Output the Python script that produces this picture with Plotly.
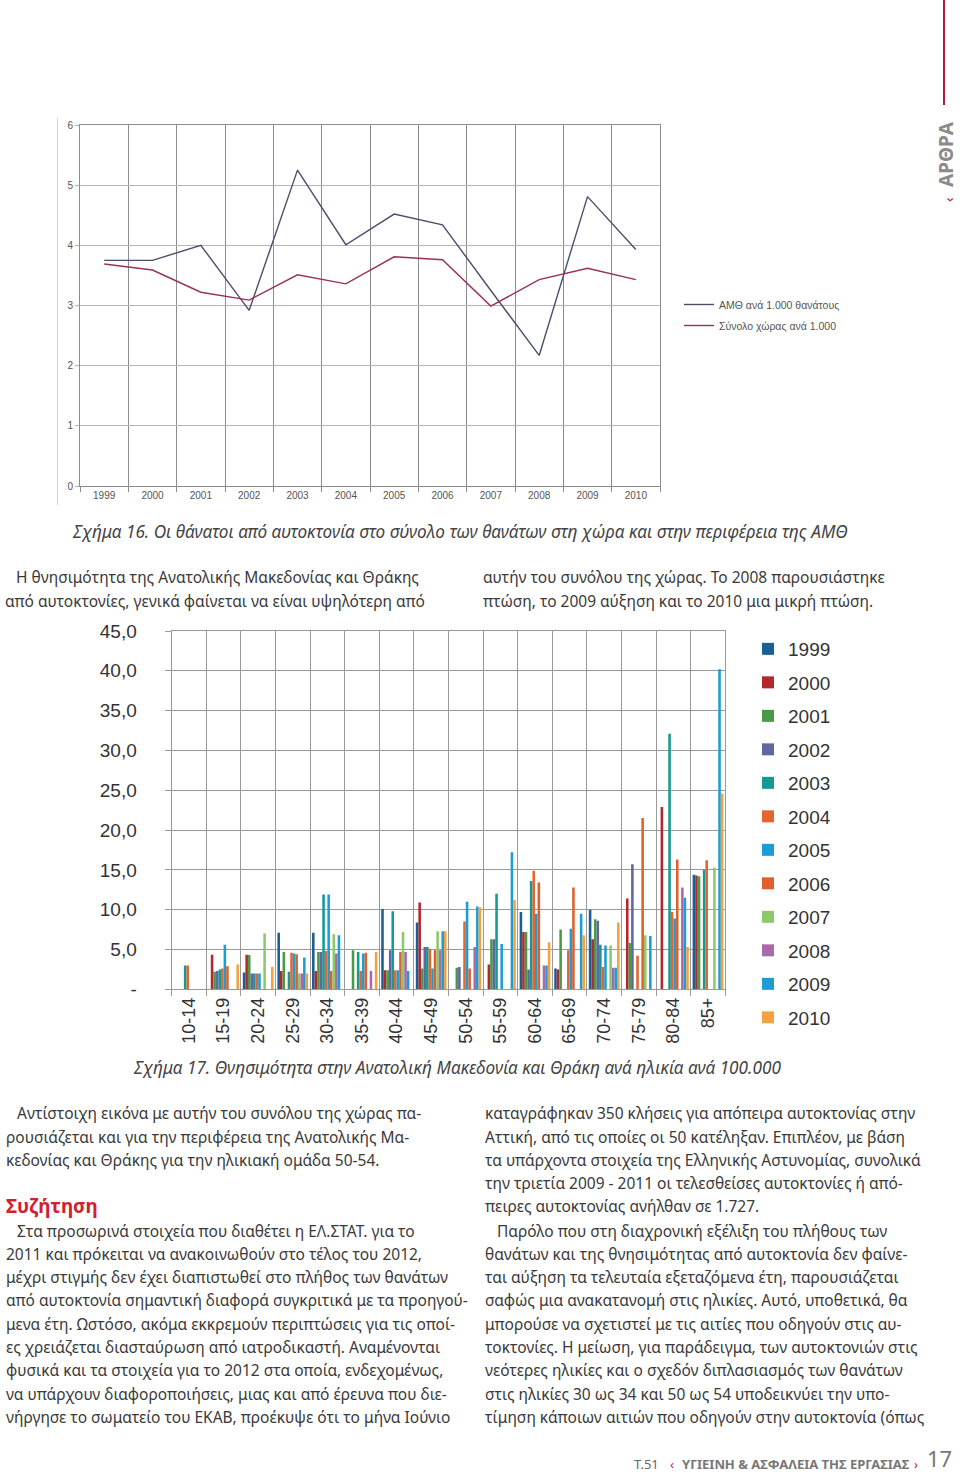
import plotly.graph_objects as go

W, H = 960, 1475

# ---------------- Data: Figure 16 (line chart) ----------------
years_line = ["1999", "2000", "2001", "2002", "2003", "2004",
              "2005", "2006", "2007", "2008", "2009", "2010"]
amth_per_1000 = [3.75, 3.75, 4.00, 2.92, 5.25, 4.01, 4.52, 4.34, 3.25, 2.17, 4.81, 3.93]
country_per_1000 = [3.69, 3.59, 3.22, 3.09, 3.51, 3.36, 3.81, 3.76, 2.99, 3.43, 3.62, 3.43]
line_names = ["ΑΜΘ ανά 1.000 θανάτους", "Σύνολο χώρας ανά 1.000"]

# ---------------- Data: Figure 17 (grouped bars) ----------------
age_groups = ["10-14", "15-19", "20-24", "25-29", "30-34", "35-39", "40-44", "45-49",
              "50-54", "55-59", "60-64", "65-69", "70-74", "75-79", "80-84", "85+"]
bar_years = ["1999", "2000", "2001", "2002", "2003", "2004",
             "2005", "2006", "2007", "2008", "2009", "2010"]
r1999 = [0, 0, 2.1, 7.1, 7.1, 0, 10.1, 8.4, 0, 0, 9.7, 2.6, 10.0, 0, 0, 14.4]
r2000 = [0, 4.35, 4.35, 2.3, 2.3, 0, 2.4, 10.9, 0, 3.1, 7.2, 2.5, 6.3, 11.4, 22.9, 14.3]
r2001 = [0, 2.2, 4.3, 4.7, 4.7, 4.9, 2.4, 2.6, 2.7, 6.3, 7.2, 7.5, 8.8, 5.8, 0, 14.2]
r2002 = [0, 2.3, 2.0, 0, 4.7, 0, 4.9, 5.3, 2.8, 6.3, 2.5, 0, 8.6, 15.7, 0, 0]
r2003 = [3.0, 2.5, 2.0, 2.2, 11.9, 4.7, 9.8, 5.3, 0, 12.0, 13.6, 0, 5.6, 0, 32.1, 15.0]
r2004 = [3.0, 2.6, 2.0, 4.6, 4.8, 2.3, 2.4, 5.1, 8.5, 0, 14.9, 4.9, 2.8, 4.2, 9.7, 16.2]
r2005 = [0, 5.6, 2.0, 4.5, 11.9, 4.5, 2.4, 2.6, 11.0, 5.7, 9.5, 7.6, 5.5, 0, 8.9, 0]
r2006 = [0, 2.9, 0, 4.4, 2.3, 4.6, 4.7, 4.9, 2.6, 0, 13.4, 12.8, 0, 21.5, 16.3, 0]
r2007 = [0, 0, 7.0, 2.0, 6.9, 0, 7.2, 7.3, 0, 0, 0, 0, 5.5, 6.8, 0, 15.3]
r2008 = [0, 0, 0, 2.0, 4.5, 2.3, 4.7, 4.9, 5.3, 0, 3.0, 0, 2.7, 0, 12.8, 0]
r2009 = [0, 0, 0, 4.0, 6.8, 0, 2.3, 7.3, 10.4, 17.2, 3.0, 9.5, 2.7, 6.7, 11.5, 40.2]
r2010 = [0, 3.1, 2.8, 2.0, 0, 4.7, 0, 7.3, 10.3, 11.2, 5.9, 6.8, 8.4, 0, 5.3, 24.6]
bar_series = [r1999, r2000, r2001, r2002, r2003, r2004,
              r2005, r2006, r2007, r2008, r2009, r2010]
bar_colors = ["#1a5e96", "#b3282d", "#4a9a45", "#6065a3", "#159a91", "#e3652f",
              "#1b9dd8", "#e0602c", "#8dc86a", "#a86aa9", "#1e9cd6", "#f3a23f"]
bar_ytickvals = [0, 5, 10, 15, 20, 25, 30, 35, 40, 45]
bar_yticktext = ["-", "5,0", "10,0", "15,0", "20,0", "25,0", "30,0", "35,0", "40,0", "45,0"]

# ---------------- Page texts ----------------
caption16 = "Σχήμα 16. Οι θάνατοι από αυτοκτονία στο σύνολο των θανάτων στη χώρα και στην περιφέρεια της ΑΜΘ"
caption17 = "Σχήμα 17. Θνησιμότητα στην Ανατολική Μακεδονία και Θράκη ανά ηλικία ανά 100.000"
mid_left = ["Η θνησιμότητα της Ανατολικής Μακεδονίας και Θράκης",
            "από αυτοκτονίες, γενικά φαίνεται να είναι υψηλότερη από"]
mid_right = ["αυτήν του συνόλου της χώρας. Το 2008 παρουσιάστηκε",
             "πτώση, το 2009 αύξηση και το 2010 μια μικρή πτώση."]
left_col_a = ["Αντίστοιχη εικόνα με αυτήν του συνόλου της χώρας πα-",
              "ρουσιάζεται και για την περιφέρεια της Ανατολικής Μα-",
              "κεδονίας και Θράκης για την ηλικιακή ομάδα 50-54."]
heading = "Συζήτηση"
left_col_b = ["Στα προσωρινά στοιχεία που διαθέτει η ΕΛ.ΣΤΑΤ. για το",
              "2011 και πρόκειται να ανακοινωθούν στο τέλος του 2012,",
              "μέχρι στιγμής δεν έχει διαπιστωθεί στο πλήθος των θανάτων",
              "από αυτοκτονία σημαντική διαφορά συγκριτικά με τα προηγού-",
              "μενα έτη. Ωστόσο, ακόμα εκκρεμούν περιπτώσεις για τις οποί-",
              "ες χρειάζεται διασταύρωση από ιατροδικαστή. Αναμένονται",
              "φυσικά και τα στοιχεία για το 2012 στα οποία, ενδεχομένως,",
              "να υπάρχουν διαφοροποιήσεις, μιας και από έρευνα που διε-",
              "νήργησε το σωματείο του ΕΚΑΒ, προέκυψε ότι το μήνα Ιούνιο"]
right_col = ["καταγράφηκαν 350 κλήσεις για απόπειρα αυτοκτονίας στην",
             "Αττική, από τις οποίες οι 50 κατέληξαν. Επιπλέον, με βάση",
             "τα υπάρχοντα στοιχεία της Ελληνικής Αστυνομίας, συνολικά",
             "την τριετία 2009 - 2011 οι τελεσθείσες αυτοκτονίες ή από-",
             "πειρες αυτοκτονίας ανήλθαν σε 1.727.",
             "Παρόλο που στη διαχρονική εξέλιξη του πλήθους των",
             "θανάτων και της θνησιμότητας από αυτοκτονία δεν φαίνε-",
             "ται αύξηση τα τελευταία εξεταζόμενα έτη, παρουσιάζεται",
             "σαφώς μια ανακατανομή στις ηλικίες. Αυτό, υποθετικά, θα",
             "μπορούσε να σχετιστεί με τις αιτίες που οδηγούν στις αυ-",
             "τοκτονίες. Η μείωση, για παράδειγμα, των αυτοκτονιών στις",
             "νεότερες ηλικίες και ο σχεδόν διπλασιασμός των θανάτων",
             "στις ηλικίες 30 ως 34 και 50 ως 54 υποδεικνύει την υπο-",
             "τίμηση κάποιων αιτιών που οδηγούν στην αυτοκτονία (όπως"]
section_tab = "ΑΡΘΡΑ"
footer_issue = "Τ.51"
footer_title = "ΥΓΙΕΙΝΗ & ΑΣΦΑΛΕΙΑ ΤΗΣ ΕΡΓΑΣΙΑΣ"
page_no = "17"


def px(x):
    return x / W


def py(y):
    return 1 - y / H


BODY_FONT = "Noto Sans"
CHART_FONT = "Liberation Sans"
TXT = "#3a3a3a"
BODY_SIZE = 15.5

fig = go.Figure()

# ---- line chart traces ----
line_colors = ["#4a4e6e", "#9a2f5a"]
for name, vals, col in zip(line_names, [amth_per_1000, country_per_1000], line_colors):
    fig.add_trace(go.Scatter(
        x=years_line, y=vals, mode="lines", name=name,
        line=dict(color=col, width=1.4),
        xaxis="x", yaxis="y", legend="legend2", legendgroup=name,
    ))

# ---- bar chart traces ----
for yr, vals, col in zip(bar_years, bar_series, bar_colors):
    fig.add_trace(go.Bar(
        x=age_groups, y=vals, name=yr, marker=dict(color=col, line=dict(width=0)),
        xaxis="x2", yaxis="y2", legend="legend", legendgroup=yr,
    ))

grid_dark = "#8c8c8c"
grid_light = "#b4b4b4"
bar_grid = "#9a9a9a"

fig.update_layout(
    width=W, height=H, margin=dict(l=0, r=0, t=0, b=0, pad=0, autoexpand=False),
    paper_bgcolor="white", plot_bgcolor="white",
    barmode="group", bargap=0.111, bargroupgap=0,
    font=dict(family=CHART_FONT, color=TXT),
    xaxis=dict(
        domain=[px(80), px(660)], anchor="y", type="category", automargin=False,
        tickson="boundaries", showgrid=True, gridcolor=grid_dark, gridwidth=1,
        ticks="outside", ticklen=5, tickcolor=grid_dark,
        showline=True, linecolor=grid_dark, mirror=True,
        tickfont=dict(size=10, color="#555", family=CHART_FONT),
        range=[-0.5, 11.5],
    ),
    yaxis=dict(
        domain=[py(486), py(125)], anchor="x", range=[0, 6], dtick=1, automargin=False,
        showgrid=True, gridcolor=grid_light, gridwidth=1,
        ticks="outside", ticklen=4, tickcolor=grid_light,
        showline=True, linecolor=grid_dark, mirror=True, zeroline=False,
        tickfont=dict(size=10, color="#555", family=CHART_FONT),
    ),
    xaxis2=dict(
        domain=[px(171.7), px(725.3)], anchor="y2", type="category", automargin=False,
        tickson="boundaries", showgrid=True, gridcolor=bar_grid, gridwidth=1.3,
        ticks="outside", ticklen=6, tickcolor=bar_grid, tickwidth=1.3,
        showline=True, linecolor=bar_grid, linewidth=1.3, mirror=True,
        tickangle=-90, tickfont=dict(size=18, color="#333", family=CHART_FONT),
        range=[-0.5, 15.5],
    ),
    yaxis2=dict(
        domain=[py(989.3), py(631)], anchor="x2", range=[0, 45], automargin=False,
        tickvals=bar_ytickvals, ticktext=bar_yticktext,
        showgrid=True, gridcolor=bar_grid, gridwidth=1.3, zeroline=False,
        ticks="outside", ticklen=6, tickcolor=bar_grid, tickwidth=1.3,
        showline=True, linecolor=bar_grid, linewidth=1.3, mirror=True,
        tickfont=dict(size=19, color="#333", family=CHART_FONT),
        ticklabelstandoff=24,
    ),
    legend=dict(
        x=px(748), y=py(630), xanchor="left", yanchor="top",
        font=dict(size=19, color="#333", family=CHART_FONT),
        traceorder="grouped", tracegroupgap=5.8, bgcolor="rgba(0,0,0,0)",
        itemclick=False, itemdoubleclick=False,
    ),
    legend2=dict(
        x=px(679), y=py(290), xanchor="left", yanchor="top",
        font=dict(size=10.5, color="#555", family=CHART_FONT),
        traceorder="grouped", tracegroupgap=2, bgcolor="rgba(0,0,0,0)",
        itemclick=False, itemdoubleclick=False,
    ),
    showlegend=True,
)

annotations = []


def txt(x, y, s, size=BODY_SIZE, color=TXT, anchor="left", family=BODY_FONT, angle=0, vanchor="middle"):
    annotations.append(dict(
        x=px(x), y=py(y), xref="paper", yref="paper", text=s, showarrow=False,
        xanchor=anchor, yanchor=vanchor, textangle=angle,
        font=dict(size=size, color=color, family=family),
    ))


# captions
txt(70, 531, "<i>" + caption16 + "</i>", size=17.2, color="#444")
txt(131, 1067, "<i>" + caption17 + "</i>", size=17.2, color="#444")

# middle paragraph
txt(14, 577, mid_left[0])
txt(3, 601, mid_left[1])
txt(481, 577, mid_right[0])
txt(481, 601, mid_right[1])

# bottom left column
ys_a = [1113, 1137, 1160]
for i, (s, yy) in enumerate(zip(left_col_a, ys_a)):
    txt(15 if i == 0 else 4, yy, s)
txt(4, 1206, "<b>" + heading + "</b>", size=19, color="#d2202f")
ys_b = [1231, 1254, 1277, 1300, 1324, 1347, 1370, 1394, 1417]
for i, (s, yy) in enumerate(zip(left_col_b, ys_b)):
    txt(15 if i == 0 else 4, yy, s)

# bottom right column
ys_r = [1113, 1137, 1160, 1183, 1206, 1231, 1254, 1277, 1300, 1324, 1347, 1370, 1394, 1417]
for i, (s, yy) in enumerate(zip(right_col, ys_r)):
    txt(495 if i == 5 else 483, yy, s)

# side tab
txt(946, 154, "<b>" + section_tab + "</b>", size=19, color="#8a8a8a", anchor="center", angle=-90)
txt(948, 200, "‹", size=15, color="#c0203a", anchor="center", angle=-90)

# footer
txt(632, 1464, footer_issue, size=13, color="#666")
txt(668, 1464, "‹", size=13, color="#c0203a")
txt(680, 1464, "<b>" + footer_title + "</b>", size=13, color="#777")
txt(912, 1464, "›", size=13, color="#c0203a")
txt(954, 1458, page_no, size=22, color="#777", anchor="right")

fig.update_layout(annotations=annotations)

# decorative page shapes
fig.update_layout(shapes=[
    dict(type="line", xref="paper", yref="paper", x0=px(57.5), x1=px(57.5), y0=py(118), y1=py(505),
         line=dict(color="#d0d0d0", width=1)),
    dict(type="line", xref="paper", yref="paper", x0=px(944), x1=px(944), y0=py(0), y1=py(105),
         line=dict(color="#b5153a", width=2)),
])

fig.write_html(
    "out.html",
    config={"displayModeBar": False},
    post_script="document.body.style.margin='0';document.body.style.overflow='hidden';",
)
